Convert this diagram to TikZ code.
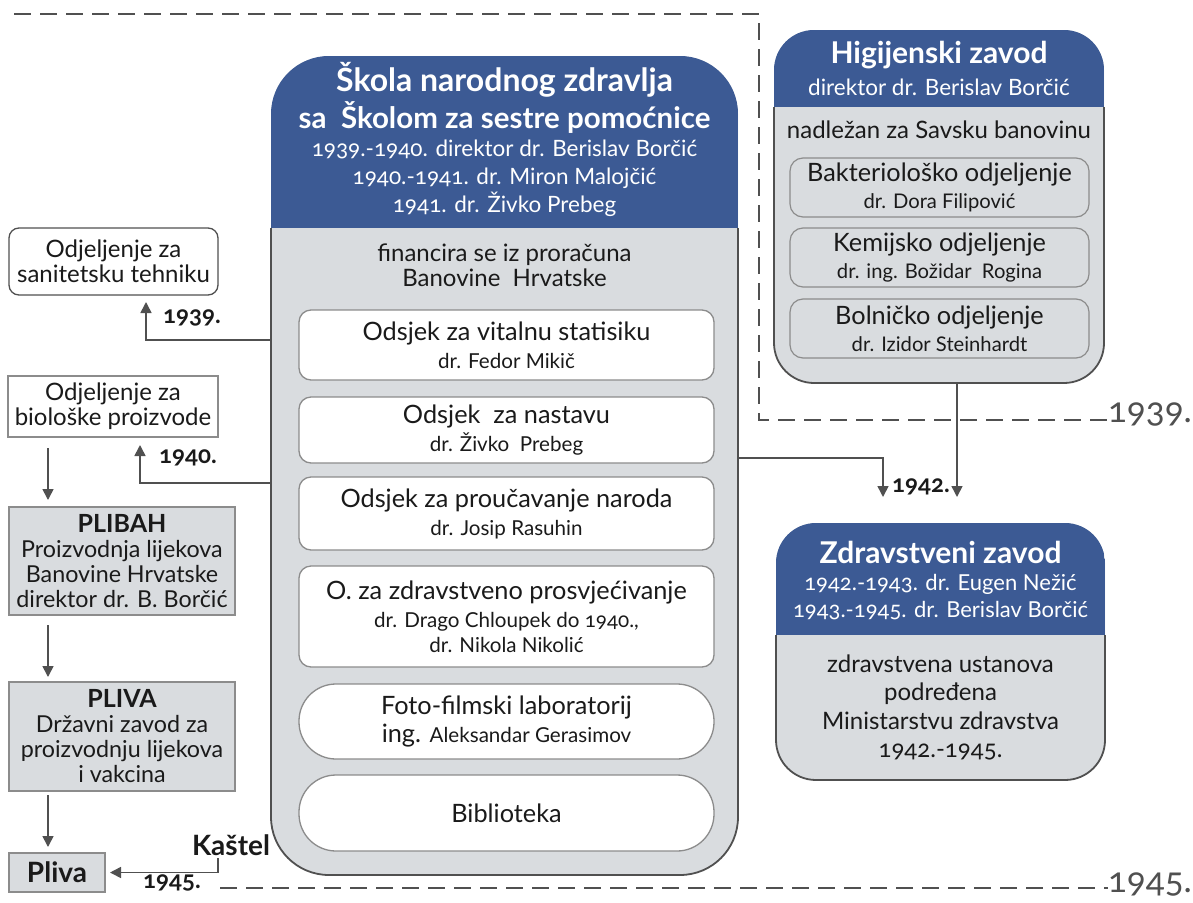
\documentclass[tikz,border=0pt]{standalone}
\usepackage{fontspec}
\setmainfont{Lato}[Numbers=OldStyle]
\usetikzlibrary{positioning,arrows.meta}

\definecolor{hdrblue}{HTML}{3C5A94}
\definecolor{boxgray}{HTML}{D9DCDF}
\definecolor{linegray}{HTML}{505050}
\definecolor{softgray}{HTML}{8C8C8C}
\definecolor{inkblack}{HTML}{1A1A1A}
\newcommand\fsz[2]{\fontsize{#1}{#2}\selectfont}
\newcommand\drsz{\fsz{20.6}{24}}

\tikzset{
  every node/.style={inner sep=0pt, outer sep=0pt, text=inkblack},
  arr/.style={draw=linegray, line width=1.6pt, -{Triangle[width=11pt,length=11pt]}},
  dashrule/.style={draw=linegray, line width=1.6pt, dash pattern=on 17pt off 9pt},
  panelline/.style={draw=linegray, line width=1.8pt},
  odsjek/.style={draw=softgray, line width=1.3pt, fill=white, rounded corners=12pt,
    minimum width=415pt, align=center, font=\fsz{25.3}{28}},
  odjel/.style={draw=softgray, line width=1.2pt, fill=boxgray, rounded corners=13pt,
    minimum width=299pt, minimum height=59pt, align=center, font=\fsz{25.3}{27}},
  leftbox/.style={draw=softgray, line width=1.5pt, fill=boxgray, minimum width=226pt,
    align=center, font=\fsz{23.3}{25}},
  hdrtext/.style={text=white, align=center},
  yearbig/.style={text=linegray, font=\fsz{35}{40}},
  yearlbl/.style={font=\bfseries\fsz{24}{26}}
}

\begin{document}
\begin{tikzpicture}[x=1pt,y=-1pt]
\useasboundingbox (0,0) rectangle (1193,902);

% vremenske granice
\node[yearbig] (y1939) at (1150,414) {1939.};
\node[yearbig] (y1945) at (1150,884) {1945.};
\draw[dashrule] (14,14) -- (759,14) -- (759,420) -- (y1939.west |- 0,420);
\draw[dashrule] (220,888) -- (y1945.west |- 0,888);

% skola narodnog zdravlja
\node[fill=boxgray, rounded corners=58pt, minimum width=467pt, minimum height=819pt] (skola) at (504.5,465.5) {};
\coordinate (skolacut) at (504.5,228);
\begin{scope}
  \clip[rounded corners=58pt] (skola.north west) rectangle (skola.south east);
  \fill[hdrblue] (skola.north west) rectangle (skola.east |- skolacut);
\end{scope}
\draw[panelline, rounded corners=58pt] (skola.west |- skolacut) -- (skola.south west) -- (skola.south east) -- (skola.east |- skolacut);
\node[hdrtext, font=\bfseries\fsz{29.5}{37}] (skolaname) at (504.5,98) {{\fsz{32}{37}Škola narodnog zdravlja}\\sa\ \ Školom za sestre pomoćnice};
\node[hdrtext, font=\fsz{22.5}{28}] (skoladir) at (504.5,178) {1939.-1940. direktor dr. Berislav Borčić\\1940.-1941. dr. Miron Malojčić\\1941. dr. Živko Prebeg};
\node[align=center, font=\fsz{24}{25}] (skolafin) at (504.5,265.5) {financira se iz proračuna\\Banovine\ \ Hrvatske};

\node[odsjek, minimum height=70pt] (vital) at (506.5,345) {Odsjek za vitalnu statisiku\\{\drsz dr. Fedor Mikič}};
\node[odsjek, minimum height=66pt] (nastava) at (506.5,430) {Odsjek\ \ za nastavu\\{\drsz dr. Živko\ \ Prebeg}};
\node[odsjek, minimum height=73pt] (narod) at (506.5,513.5) {Odsjek za proučavanje naroda\\{\drsz dr. Josip Rasuhin}};
\node[odsjek, minimum height=101pt] (prosvj) at (506.5,616.5) {O. za zdravstveno prosvjećivanje\\{\drsz dr. Drago Chloupek do 1940.,}\\[-3pt]{\drsz dr. Nikola Nikolić}};
\node[odsjek, rounded corners=37pt, minimum height=75pt] (foto) at (506.5,721.5) {Foto-filmski laboratorij\\ing. {\drsz Aleksandar Gerasimov}};
\node[odsjek, rounded corners=37pt, minimum height=76pt] (biblio) at (506.5,813) {Biblioteka};

% higijenski zavod
\node[fill=boxgray, rounded corners=40pt, minimum width=330pt, minimum height=353pt] (higij) at (939,206.5) {};
\coordinate (higijcut) at (939,107);
\begin{scope}
  \clip[rounded corners=40pt] (higij.north west) rectangle (higij.south east);
  \fill[hdrblue] (higij.north west) rectangle (higij.east |- higijcut);
\end{scope}
\draw[panelline, rounded corners=40pt] (higij.west |- higijcut) -- (higij.south west) -- (higij.south east) -- (higij.east |- higijcut);
\node[hdrtext, font=\bfseries\fsz{30}{32}] (higijname) at (939,55) {Higijenski zavod};
\node[hdrtext, font=\fsz{22.5}{26}] (higijdir) at (939,87) {direktor dr. Berislav Borčić};
\node[font=\fsz{24}{26}] (higijnad) at (939,130) {nadležan za Savsku banovinu};
\node[odjel] (bakt) at (939.5,187.5) {Bakteriološko odjeljenje\\{\fsz{20.2}{24}dr. Dora Filipović}};
\node[odjel] (kem) at (939.5,257.5) {Kemijsko odjeljenje\\{\fsz{20.2}{24}dr. ing. Božidar\ \ Rogina}};
\node[odjel] (boln) at (939.5,328.5) {Bolničko odjeljenje\\{\fsz{20.2}{24}dr. Izidor Steinhardt}};

% zdravstveni zavod
\node[fill=boxgray, rounded corners=40pt, minimum width=329pt, minimum height=257pt] (zdrav) at (940.5,651.5) {};
\coordinate (zdravcut) at (940.5,635);
\begin{scope}
  \clip[rounded corners=40pt] (zdrav.north west) rectangle (zdrav.south east);
  \fill[hdrblue] (zdrav.north west) rectangle (zdrav.east |- zdravcut);
\end{scope}
\draw[panelline, rounded corners=40pt] (zdrav.west |- zdravcut) -- (zdrav.south west) -- (zdrav.south east) -- (zdrav.east |- zdravcut);
\node[hdrtext, font=\bfseries\fsz{30}{32}] (zdravname) at (940.5,552) {Zdravstveni zavod};
\node[hdrtext, font=\fsz{22}{27}] (zdravdir) at (940.5,597) {1942.-1943. dr. Eugen Nežić\\1943.-1945. dr. Berislav Borčić};
\node[align=center, font=\fsz{24}{28.5}] (zdravopis) at (940.5,707.5) {zdravstvena ustanova\\podređena\\Ministarstvu zdravstva\\1942.-1945.};

% lijevi stupac
\node[draw=linegray, line width=1.3pt, fill=white, rounded corners=10pt, minimum width=209pt, minimum height=67pt, align=center, font=\fsz{24}{25}] (sanit) at (113.5,261.5) {Odjeljenje za\\sanitetsku tehniku};
\node[draw=softgray, line width=1.5pt, fill=white, minimum width=210pt, minimum height=61pt, align=center, font=\fsz{24}{25}] (biol) at (113,406.5) {Odjeljenje za\\biološke proizvode};
\node[leftbox, minimum height=108pt] (plibah) at (122,561) {{\bfseries\fsz{25}{28}PLIBAH}\\Proizvodnja lijekova\\Banovine Hrvatske\\direktor dr. B. Borčić};
\node[leftbox, minimum height=109pt] (pliva) at (122,736.5) {{\bfseries\fsz{25}{28}PLIVA}\\Državni zavod za\\proizvodnju lijekova\\i vakcina};
\node[leftbox, minimum width=96pt, minimum height=39pt, font=\bfseries\fsz{28}{30}] (plivamala) at (57,872.5) {Pliva};

% veze
\coordinate (a1939) at (146,340);
\coordinate (a1940) at (140,483);
\coordinate (lane) at (48,0);
\coordinate (kastel) at (218,858);
\coordinate (b1942) at (883,458);
\coordinate (c1942) at (883,497);
\coordinate (d1942) at (957,497);
\draw[arr, shorten >=7pt] (skola.west |- a1939) -| (a1939 |- sanit.south);
\draw[arr, shorten >=8pt] (skola.west |- a1940) -| (a1940 |- biol.south);
\draw[arr, shorten <=11pt, shorten >=7pt] (lane |- biol.south) -- (lane |- plibah.north);
\draw[arr, shorten <=10pt, shorten >=5pt] (lane |- plibah.south) -- (lane |- pliva.north);
\draw[arr, shorten <=4pt, shorten >=6pt] (lane |- pliva.south) -- (lane |- plivamala.north);
\draw[arr, shorten >=5pt] (kastel) |- (plivamala.east);
\draw[arr] (skola.east |- b1942) -| (c1942);
\draw[arr] (d1942 |- higij.south) -- (d1942);

\node[yearlbl] (l1939) at (192,318) {1939.};
\node[yearlbl] (l1940) at (188,458) {1940.};
\node[yearlbl] (l1942) at (921,487) {1942.};
\node[font=\bfseries\fsz{28}{30}] (lkastel) at (231,845) {Kaštel};
\node[yearlbl] (l1945) at (172,883) {1945.};
\end{tikzpicture}
\end{document}
